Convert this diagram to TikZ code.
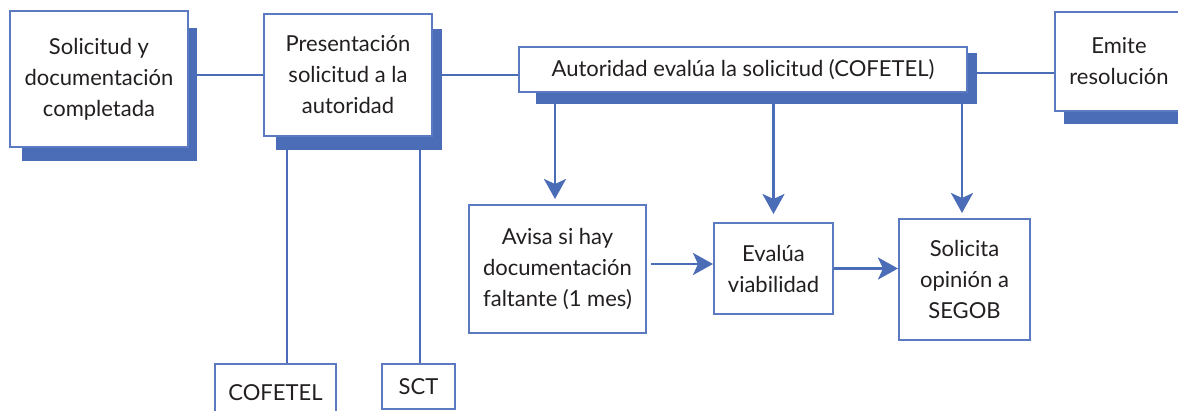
\documentclass[tikz,border=0pt]{standalone}
\usepackage{fontspec}
\setmainfont{Lato}
\usetikzlibrary{arrows.meta}
\usetikzlibrary{backgrounds}
\definecolor{azul}{RGB}{75,108,182}
\definecolor{azulclaro}{RGB}{92,122,194}
\definecolor{texto}{RGB}{35,31,32}

\begin{document}
\begin{tikzpicture}[x=0.5pt,y=-0.5pt,
	box/.style={draw=azulclaro,line width=1pt,fill=white,inner sep=0pt,align=center,text=texto,font=\fontsize{11pt}{15.5pt}\selectfont},
	sombra/.style={fill=azul},
	linea/.style={draw=azul,line width=1.4pt},
	flecha/.style={linea,-{Stealth[length=10pt,width=11pt,inset=2.5pt]},shorten >=2.5pt}]
	\useasboundingbox (0,0) rectangle (1178,411);

	% sombras
	\fill[sombra] (22,28) rectangle (197,161);
	\fill[sombra] (276,29) rectangle (442,150);
	\fill[sombra] (536,53) rectangle (977,104);
	\fill[sombra] (1064,25) rectangle (1192,124);

	% fila de arriba
	\node[box,minimum width=89pt,minimum height=68pt] (solicitud) at (99,79) {Solicitud y\\documentación\\completada};
	\node[box,minimum width=84pt,minimum height=61pt] (presenta) at (348,75) {Presentación\\solicitud a la\\autoridad};
	\node[box,minimum width=224pt,minimum height=22.5pt] (evalua) at (743,69.5) {Autoridad evalúa la solicitud (COFETEL)};
	\node[box,minimum width=64pt,minimum height=49.5pt] (emite) at (1119,61.5) {Emite\\resolución};

	% fila de abajo
	\node[box,minimum width=88.5pt,minimum height=64pt] (avisa) at (557.5,269) {Avisa si hay\\documentación\\faltante (1 mes)};
	\node[box,minimum width=59.5pt,minimum height=45.5pt] (viable) at (773.5,268.5) {Evalúa\\viabilidad};
	\node[box,minimum width=65.5pt,minimum height=60.5pt] (segob) at (964.5,279.5) {Solicita\\opinión a\\SEGOB};
	\node[box,minimum width=60.5pt,minimum height=29pt] (cofetel) at (275.5,393) {COFETEL};
	\node[box,minimum width=36.5pt,minimum height=22.5pt] (sct) at (418.5,386.5) {SCT};

	\begin{scope}[on background layer]
	\draw[linea] (presenta.west -| solicitud.east) -- (presenta.west);
	\draw[linea] (presenta.east) -- (presenta.east -| evalua.west);
	\draw[linea] ([yshift=-1.75pt]evalua.east) -- ([yshift=-1.75pt]evalua.east -| emite.west);
	\draw[linea] ([xshift=5.75pt]cofetel.north) -- ([xshift=5.75pt]cofetel.north |- presenta.south);
	\draw[linea] ([xshift=0.75pt]sct.north) -- ([xshift=0.75pt]sct.north |- presenta.south);
	\draw[flecha] ([xshift=-1.25pt]evalua.south -| avisa.north) -- ([xshift=-1.25pt]avisa.north);
	\draw[flecha,shorten >=4pt] (evalua.south -| viable.north) -- (viable.north);
	\draw[flecha] ([xshift=-1.25pt]evalua.south -| segob.north) -- ([xshift=-1.25pt]segob.north);
	\draw[flecha,shorten >=0pt,shorten <=2pt] ([yshift=2.5pt]avisa.east) -- ([yshift=2.5pt]avisa.east -| viable.west);
	\draw[flecha,shorten >=0pt] (viable.east) -- (viable.east -| segob.west);
	\end{scope}

\end{tikzpicture}
\end{document}
